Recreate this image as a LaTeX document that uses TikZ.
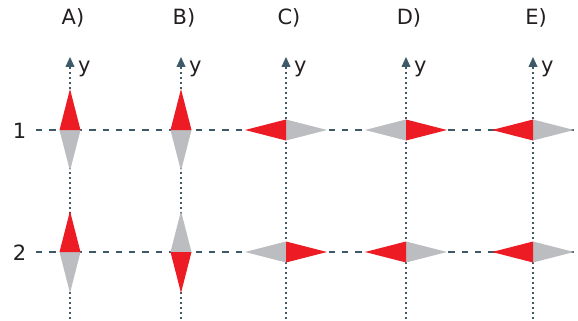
\documentclass[tikz,border=0pt]{standalone}
\usepackage{fontspec}
\setmainfont{DejaVu Sans}
\usetikzlibrary{arrows.meta}
\definecolor{spinred}{RGB}{237,28,36}
\definecolor{spingrey}{RGB}{188,189,192}
\definecolor{axisc}{RGB}{62,90,104}
\definecolor{txt}{RGB}{35,31,32}
\tikzset{
  hline/.style={draw=axisc, line width=1.6pt, dash pattern=on 6.3pt off 7pt},
  vline/.style={draw=axisc, line width=1.6pt, dash pattern=on 2.4pt off 2.6pt},
  arrowhd/.style={fill=axisc, draw=none},
  lbl/.style={font=\fontsize{21}{24}\selectfont, text=txt, inner sep=0pt},
}
% \spinat{coord}{angle}: red half points to angle
\newcommand{\spinat}[2]{%
  \begin{scope}[shift={(#1)}, rotate=#2]
    \fill[spingrey] (0,10.5) -- (-41,0) -- (0,-10.5) -- cycle;
    \fill[spinred] (0,10.5) -- (41,0) -- (0,-10.5) -- cycle;
  \end{scope}}
\begin{document}
\begin{tikzpicture}[x=1pt,y=-1pt]
\useasboundingbox (0,0) rectangle (578,321);
% columns and rows
\foreach \n/\x in {A/70,B/181,C/286,D/406,E/533}{
  \coordinate (\n1) at (\x,130);
  \coordinate (\n2) at (\x,252);
  \coordinate (\n top) at (\x,57);
  \coordinate (\n base) at (\x,67);
  \coordinate (\n bot) at (\x,321);
  \node[lbl] (\n lab) at (\x+3,17.5) {\n)};
  \node[lbl, anchor=base west] (\n y) at (\x+8,73) {y};
}
\coordinate (r1s) at (36,130);
\coordinate (r1e) at (575,130);
\coordinate (r2s) at (36,252);
\coordinate (r2e) at (575,252);
\node[lbl] (one) at (19.5,130.5) {1};
\node[lbl] (two) at (19.5,252.5) {2};
% lines
\draw[hline] (r1s) -- (r1e);
\draw[hline] (r2s) -- (r2e);
\foreach \n in {A,B,C,D,E}{
  \draw[vline] (\n base) -- (\n bot);
  \fill[arrowhd] (\n top) -- ([xshift=4.6pt]\n base) -- ([xshift=-4.6pt]\n base) -- cycle;
}
% spins row 1
\spinat{A1}{90}
\spinat{B1}{90}
\spinat{C1}{180}
\spinat{D1}{0}
\spinat{E1}{180}
% spins row 2
\spinat{A2}{90}
\spinat{B2}{-90}
\spinat{C2}{0}
\spinat{D2}{180}
\spinat{E2}{180}
\end{tikzpicture}
\end{document}
